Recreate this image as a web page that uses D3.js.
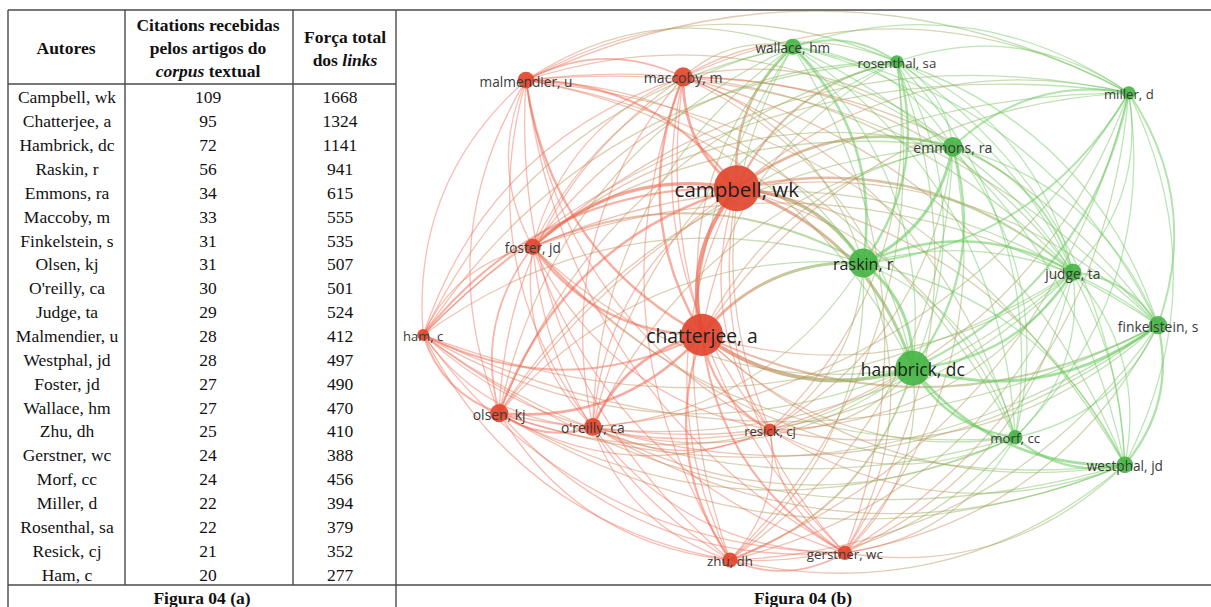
<!DOCTYPE html>
<html>
<head>
<meta charset="utf-8">
<script src="https://cdn.jsdelivr.net/npm/d3@7"></script>
<style>
  body { margin: 0; background: #fff; }
</style>
</head>
<body>
<svg id="chart"></svg>
<script>
// Table data (Figura 04 a)
const authors = ["Campbell, wk", "Chatterjee, a", "Hambrick, dc", "Raskin, r", "Emmons, ra", "Maccoby, m",
    "Finkelstein, s", "Olsen, kj", "O'reilly, ca", "Judge, ta", "Malmendier, u", "Westphal, jd", "Foster, jd",
    "Wallace, hm", "Zhu, dh", "Gerstner, wc", "Morf, cc", "Miller, d", "Rosenthal, sa", "Resick, cj", "Ham, c"];
const citations = [109, 95, 72, 56, 34, 33, 31, 31, 30, 29, 28, 28, 27, 27, 25, 24, 24, 22, 22, 21, 20];
const linkStrength = [1668, 1324, 1141, 941, 615, 555, 535, 507, 501, 524, 412, 497, 490, 470, 410, 388, 456, 394, 379, 352, 277];

// Network data (Figura 04 b), same order as authors
const nodeLabels = ["campbell, wk", "chatterjee, a", "hambrick, dc", "raskin, r", "emmons, ra", "maccoby, m",
    "finkelstein, s", "olsen, kj", "o'reilly, ca", "judge, ta", "malmendier, u", "westphal, jd", "foster, jd",
    "wallace, hm", "zhu, dh", "gerstner, wc", "morf, cc", "miller, d", "rosenthal, sa", "resick, cj", "ham, c"];
const nodeCluster = [1, 1, 2, 2, 2, 1, 2, 1, 1, 2, 1, 2, 1, 2, 1, 1, 2, 2, 2, 1, 1];
// layout coordinates (0..100 map space)
const nodeX = [42.1, 37.75, 64.1, 57.9, 69.1, 35.4, 94.75, 12.4, 24.1, 84.1, 15.75, 90.6, 16.6, 49.1, 41.25, 55.6, 76.9, 91.1, 62.1, 46.25, 2.9];
const nodeY = [31.0, 56.5, 62.3, 44.0, 23.8, 11.65, 54.8, 70.1, 72.5, 45.6, 12.2, 79.1, 41.2, 6.4, 95.65, 94.4, 74.3, 14.4, 9.0, 73.0, 56.5];

// strongest links (estimated strength); all other pairs are drawn as weak links
const strongLinks = [
    ["Campbell, wk", "Chatterjee, a", 100], ["Campbell, wk", "Raskin, r", 80], ["Campbell, wk", "Emmons, ra", 55],
    ["Campbell, wk", "Foster, jd", 70], ["Campbell, wk", "Maccoby, m", 55], ["Campbell, wk", "Olsen, kj", 45],
    ["Campbell, wk", "Wallace, hm", 50], ["Campbell, wk", "Rosenthal, sa", 40], ["Campbell, wk", "Hambrick, dc", 65],
    ["Campbell, wk", "Judge, ta", 40], ["Campbell, wk", "Malmendier, u", 40], ["Campbell, wk", "Ham, c", 35],
    ["Chatterjee, a", "Hambrick, dc", 90], ["Chatterjee, a", "Raskin, r", 60], ["Chatterjee, a", "Olsen, kj", 50],
    ["Chatterjee, a", "O'reilly, ca", 50], ["Chatterjee, a", "Resick, cj", 40], ["Chatterjee, a", "Maccoby, m", 45],
    ["Chatterjee, a", "Malmendier, u", 45], ["Chatterjee, a", "Zhu, dh", 40], ["Chatterjee, a", "Gerstner, wc", 35],
    ["Chatterjee, a", "Ham, c", 35], ["Chatterjee, a", "Foster, jd", 45], ["Chatterjee, a", "Finkelstein, s", 35],
    ["Hambrick, dc", "Raskin, r", 60], ["Hambrick, dc", "Finkelstein, s", 60], ["Hambrick, dc", "Westphal, jd", 55],
    ["Hambrick, dc", "Morf, cc", 45], ["Hambrick, dc", "Judge, ta", 40], ["Hambrick, dc", "Emmons, ra", 40],
    ["Hambrick, dc", "Miller, d", 35], ["Hambrick, dc", "Zhu, dh", 30],
    ["Raskin, r", "Emmons, ra", 60], ["Raskin, r", "Judge, ta", 45], ["Raskin, r", "Wallace, hm", 50],
    ["Raskin, r", "Rosenthal, sa", 45], ["Raskin, r", "Miller, d", 30], ["Raskin, r", "Foster, jd", 35],
    ["Emmons, ra", "Miller, d", 30], ["Emmons, ra", "Judge, ta", 30], ["Finkelstein, s", "Westphal, jd", 40],
    ["Finkelstein, s", "Miller, d", 30], ["Morf, cc", "Westphal, jd", 40], ["Olsen, kj", "Ham, c", 30],
    ["Olsen, kj", "O'reilly, ca", 35], ["Maccoby, m", "Malmendier, u", 25], ["Foster, jd", "Olsen, kj", 25],
    ["Zhu, dh", "Gerstner, wc", 25], ["Judge, ta", "Finkelstein, s", 30], ["Wallace, hm", "Rosenthal, sa", 30]
];
const weakStrength = 10;

const W = 1211, H = 607;
const svg = d3.select("#chart").attr("width", W).attr("height", H);

// ---------- Table ----------
const lineColor = "#4a4a4a";
const serif = "'Liberation Serif', 'Times New Roman', serif";
const headerBottom = 84, bodyBottom = 585;
const rowScale = d3.scaleBand().domain(authors).range([headerBottom, bodyBottom]);

const table = svg.append("g").attr("font-family", serif).attr("fill", "#111");

// grid lines
const hLines = [[8, W, 10], [8, 396, headerBottom], [8, W, bodyBottom]];
table.selectAll(".hl").data(hLines).enter().append("line")
    .attr("x1", d => d[0]).attr("x2", d => d[1]).attr("y1", d => d[2]).attr("y2", d => d[2])
    .attr("stroke", lineColor).attr("stroke-width", 1.4);
const vLines = [[8, 10, H], [125, 10, bodyBottom], [293, 10, bodyBottom], [396, 10, H]];
table.selectAll(".vl").data(vLines).enter().append("line")
    .attr("x1", d => d[0]).attr("x2", d => d[0]).attr("y1", d => d[1]).attr("y2", d => d[2])
    .attr("stroke", lineColor).attr("stroke-width", 1.4);

// header
const headers = [
    { x: 66, lines: [[["Autores", false]]], y0: 48 },
    { x: 208, lines: [[["Citations recebidas", false]], [["pelos artigos do", false]], [["corpus", true], [" textual", false]]], y0: 25 },
    { x: 345, lines: [[["Força total", false]], [["dos ", false], ["links", true]]], y0: 37 }
];
headers.forEach(h => {
    h.lines.forEach((parts, i) => {
        const t = table.append("text")
            .attr("x", h.x).attr("y", h.y0 + i * 23)
            .attr("text-anchor", "middle").attr("dominant-baseline", "central")
            .attr("font-size", 17.5).attr("font-weight", "bold");
        parts.forEach(p => t.append("tspan").attr("font-style", p[1] ? "italic" : "normal").text(p[0]));
    });
});

// body rows
const rows = table.selectAll(".row").data(authors).enter().append("g")
    .attr("transform", d => `translate(0,${rowScale(d) + rowScale.bandwidth() / 2 + 1.5})`);
rows.append("text").attr("x", 67).attr("text-anchor", "middle").attr("dominant-baseline", "central")
    .attr("font-size", 17.5).text(d => d);
rows.append("text").attr("x", 208).attr("text-anchor", "middle").attr("dominant-baseline", "central")
    .attr("font-size", 17.5).text((d, i) => citations[i]);
rows.append("text").attr("x", 340).attr("text-anchor", "middle").attr("dominant-baseline", "central")
    .attr("font-size", 17.5).text((d, i) => linkStrength[i]);

// figure captions
table.append("text").attr("x", 202).attr("y", 598).attr("text-anchor", "middle").attr("dominant-baseline", "central")
    .attr("font-size", 17.5).attr("font-weight", "bold").text("Figura 04 (a)");
table.append("text").attr("x", 803).attr("y", 598).attr("text-anchor", "middle").attr("dominant-baseline", "central")
    .attr("font-size", 17.5).attr("font-weight", "bold").text("Figura 04 (b)");

// ---------- Network ----------
const x = d3.scaleLinear().domain([0, 100]).range([400, 1200]);
const y = d3.scaleLinear().domain([0, 100]).range([10, 585]);
const radius = d3.scalePow().exponent(0.5).domain([20, 109]).range([6, 23]);
const fontSize = d3.scaleLinear().domain([20, 109]).range([13, 20.5]);
const width = d3.scaleLinear().domain([0, 100]).range([1.0, 4.2]);
const opacity = d3.scaleLinear().domain([0, 100]).range([0.42, 0.7]);

const clusterNode = { 1: "#e2462f", 2: "#48b545" };
const clusterEdge = { 1: "#ee6b55", 2: "#66c85c" };

const nodes = authors.map((a, i) => ({
    id: a, label: nodeLabels[i], cluster: nodeCluster[i], cites: citations[i],
    px: x(nodeX[i]), py: y(nodeY[i])
}));

const strongKey = new Map(strongLinks.map(l => [[l[0], l[1]].sort().join("|"), l[2]]));
const links = [];
for (let i = 0; i < nodes.length; i++) {
    for (let j = i + 1; j < nodes.length; j++) {
        const k = [nodes[i].id, nodes[j].id].sort().join("|");
        links.push({ source: nodes[i], target: nodes[j], value: strongKey.has(k) ? strongKey.get(k) : weakStrength });
    }
}
links.sort((a, b) => a.value - b.value);

// curved links bend away from the centre of the map
const cx = d3.mean(nodes, n => n.px), cy = d3.mean(nodes, n => n.py);
function curve(l) {
    const s = l.source, t = l.target;
    const dx = t.px - s.px, dy = t.py - s.py;
    const len = Math.hypot(dx, dy);
    let nx = dy / len, ny = -dx / len;
    const mx = (s.px + t.px) / 2, my = (s.py + t.py) / 2;
    if (nx * (mx - cx) + ny * (my - cy) < 0) { nx = -nx; ny = -ny; }
    const k = 0.25 * len;
    return `M${s.px},${s.py}Q${mx + nx * k},${my + ny * k} ${t.px},${t.py}`;
}

const defs = svg.append("defs");
defs.append("clipPath").attr("id", "netclip").append("rect")
    .attr("x", 397).attr("y", 11).attr("width", W - 397).attr("height", bodyBottom - 12);

links.forEach((l, i) => {
    if (l.source.cluster !== l.target.cluster) {
        const g = defs.append("linearGradient").attr("id", "lg" + i)
            .attr("gradientUnits", "userSpaceOnUse")
            .attr("x1", l.source.px).attr("y1", l.source.py).attr("x2", l.target.px).attr("y2", l.target.py);
        g.append("stop").attr("offset", "0%").attr("stop-color", clusterEdge[l.source.cluster]);
        g.append("stop").attr("offset", "100%").attr("stop-color", clusterEdge[l.target.cluster]);
        l.stroke = `url(#lg${i})`;
    } else {
        l.stroke = clusterEdge[l.source.cluster];
    }
});

const net = svg.append("g").attr("clip-path", "url(#netclip)");

net.selectAll(".link").data(links).enter().append("path")
    .attr("class", "link")
    .attr("d", curve)
    .attr("fill", "none")
    .attr("stroke", d => d.stroke)
    .attr("stroke-width", d => width(d.value))
    .attr("stroke-opacity", d => opacity(d.value))
    .attr("stroke-linecap", "round");

net.selectAll(".node").data(nodes).enter().append("circle")
    .attr("class", "node")
    .attr("cx", d => d.px).attr("cy", d => d.py)
    .attr("r", d => radius(d.cites))
    .attr("fill", d => clusterNode[d.cluster])
    .attr("fill-opacity", 0.92);

net.selectAll(".label").data(nodes).enter().append("text")
    .attr("class", "label")
    .attr("x", d => d.px).attr("y", d => d.py + 1)
    .attr("text-anchor", "middle").attr("dominant-baseline", "central")
    .attr("font-family", "'Open Sans', 'DejaVu Sans', sans-serif")
    .attr("font-size", d => fontSize(d.cites))
    .attr("fill", d => d.cites > 50 ? "#1e1e1e" : "#3a3a3a")
    .text(d => d.label);
</script>
</body>
</html>
